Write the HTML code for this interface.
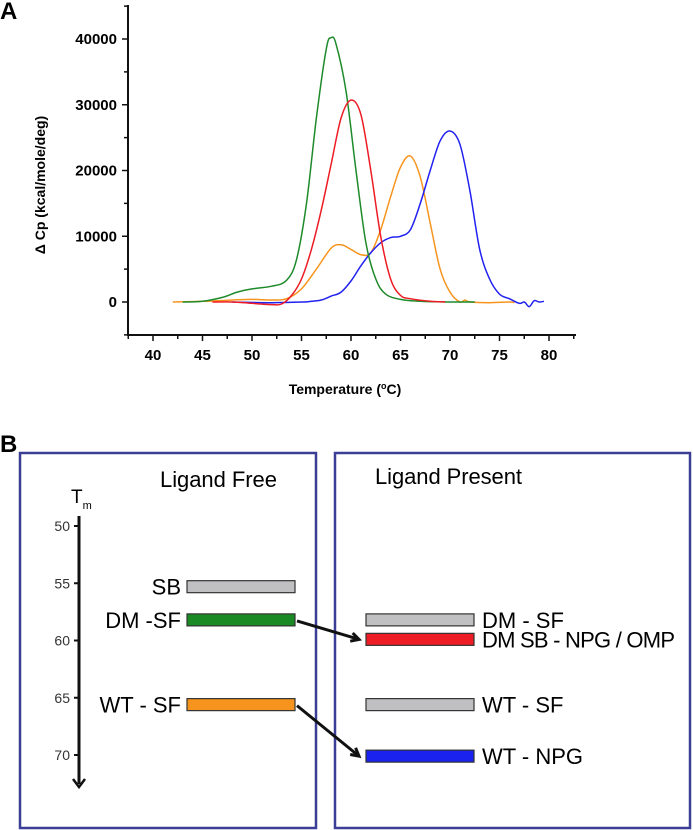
<!DOCTYPE html>
<html><head><meta charset="utf-8"><style>
html,body{margin:0;padding:0;background:#fff;}
svg{display:block;}
.ax{font-family:"Liberation Sans",sans-serif;font-weight:bold;}
.nb{font-family:"Liberation Sans Narrow","Liberation Sans",sans-serif;}
</style></head><body>
<svg id="fig" width="693" height="830" viewBox="0 0 693 830" xmlns="http://www.w3.org/2000/svg">
<text x="0" y="19" class="ax" font-size="24">A</text>
<g id="chart"></g>
<text x="0" y="452" class="ax" font-size="24">B</text>
<g id="panelB"></g>
</svg>
<script>
const xTicks=[40,45,50,55,60,65,70,75,80];
const yTicks=[0,10000,20000,30000,40000];
const greenT=[43,45,47,48.5,50,52,53.5,54.5,55.5,56.5,57.5,58,58.5,59.5,60.5,61.5,62.5,63.5,65,67,70,72.5];
const greenV=[0,100,700,1500,2000,2400,3300,6500,15000,28000,38500,40200,39200,32000,20000,9000,3500,1200,400,100,0,0];
const redT=[46,48,50,52,53,54,55,56,57,58,59,60,61,62,63,64,65,66,68,69.5];
const redV=[0,0,-200,-400,-300,1000,3500,8000,14000,21000,28000,30700,28500,20000,10000,3500,1000,500,100,0];
const orangeT=[42,45,48,50,52,53.5,55,56.5,58,59,60,61,62,63,64,65,66,67,68,69,70,71,71.5,72,74,76,76.5];
const orangeV=[0,100,300,400,300,500,2000,5000,8200,8700,8000,7200,7500,11000,16000,20500,22200,19000,12000,5000,1500,0,300,0,-100,0,-100];
const blueT=[48,52,55,56,57,58,59,60,61,62,63,64,65,66,67,68,69,70,71,72,73,74,75,76,77,77.5,78,78.5,79,79.5];
const blueV=[0,-100,0,100,300,900,1500,3200,5500,7500,9000,9800,10000,11000,15000,20000,24500,26000,24000,17000,8000,3500,1200,500,-200,0,-700,200,0,100];
const NS="http://www.w3.org/2000/svg";
function mk(tag,attrs,parent){const e=document.createElementNS(NS,tag);for(const k in attrs)e.setAttribute(k,attrs[k]);parent.appendChild(e);return e;}
const X=t=>153+(t-40)*9.9;
const Y=v=>302-v*0.006575;
const g=document.getElementById('chart');
let yl=mk('line',{x1:128,y1:5,x2:128,y2:335,stroke:'#111','stroke-width':2},g);


let xl=mk('line',{x1:127,y1:335,x2:576,y2:335,stroke:'#111','stroke-width':2},g);


for(let v=-5000;v<=45000;v+=5000){const maj=v%10000===0;mk('line',{x1:maj?122:124,y1:Y(v),x2:128,y2:Y(v),stroke:'#111','stroke-width':1.5},g);}
for(let t=37.5;t<=82.5;t+=2.5){const maj=t%5===0;mk('line',{x1:X(t),y1:335,x2:X(t),y2:maj?341:339,stroke:'#111','stroke-width':1.5},g);}
yTicks.forEach(v=>{const t=mk('text',{x:117,y:Y(v)+5,'text-anchor':'end','font-size':15,class:'ax'},g);t.textContent=v;

});
xTicks.forEach(v=>{const t=mk('text',{x:X(v),y:360,'text-anchor':'middle','font-size':15,class:'ax'},g);t.textContent=v;

});
const yt=mk('text',{x:0,y:0,transform:'translate(45,185) rotate(-90)','text-anchor':'middle','font-size':14,class:'ax'},g);
yt.textContent='\u0394 Cp (kcal/mole/deg)';


const xt=mk('text',{x:345,y:394,'text-anchor':'middle','font-size':14,class:'ax'},g);
xt.innerHTML='Temperature (<tspan dy="-5" font-size="9">o</tspan><tspan dy="5">C)</tspan>';


function pathD(T,V){const p=T.map((t,i)=>[X(t),Y(V[i])]);let d='M'+p[0][0].toFixed(1)+','+p[0][1].toFixed(1);
for(let i=0;i<p.length-1;i++){const p0=p[i-1]||p[i],p1=p[i],p2=p[i+1],p3=p[i+2]||p2;
const c1=[p1[0]+(p2[0]-p0[0])/6,p1[1]+(p2[1]-p0[1])/6],c2=[p2[0]-(p3[0]-p1[0])/6,p2[1]-(p3[1]-p1[1])/6];
d+=' C'+c1.map(n=>n.toFixed(1))+' '+c2.map(n=>n.toFixed(1))+' '+p2.map(n=>n.toFixed(1));}return d;}
[[orangeT,orangeV,'#f7941d','orange-wt-sf-curve'],[blueT,blueV,'#2121f0','blue-wt-npg-curve'],[greenT,greenV,'#1e8a2a','green-dm-sf-curve'],[redT,redV,'#ed1c24','red-dm-sb-curve']].forEach(s=>{
const p=mk('path',{d:pathD(s[0],s[1]),fill:'none',stroke:s[2],'stroke-width':1.5},g);

});

const tmTicks=[50,55,60,65,70];
const leftBars=['SB','DM -SF','WT - SF'];
const leftTm=[55.3,58.2,65.6];
const leftCol=['#c0c0c2','#1a8a24','#f7941d'];
const rightBars=['DM - SF','DM SB - NPG / OMP','WT - SF','WT - NPG'];
const rightTm=[58.2,59.9,65.6,70.1];
const rightCol=['#c0c0c2','#ee1c24','#c0c0c2','#1a22f0'];
const B=document.getElementById('panelB');
const TY=t=>526+(t-50)*11.45;
let b1=mk('rect',{x:20,y:453,width:296,height:375,fill:'none',stroke:'#3a3f95','stroke-width':2.5},B);


let b2=mk('rect',{x:335,y:453,width:355,height:375,fill:'none',stroke:'#3a3f95','stroke-width':2.5},B);


let h1=mk('text',{x:160,y:487,'font-size':22,class:'nb',textLength:117},B);h1.textContent='Ligand Free';


let h2=mk('text',{x:375,y:484,'font-size':22,class:'nb',textLength:147},B);h2.textContent='Ligand Present';


let tm=mk('text',{x:71,y:503,'font-size':19,class:'nb'},B);tm.innerHTML='T<tspan dy="6" font-size="11">m</tspan>';


let al=mk('line',{x1:79,y1:516,x2:79,y2:784,stroke:'#111','stroke-width':3},B);


mk('path',{d:'M73,779 L79,787 L85,779',fill:'none',stroke:'#111','stroke-width':2.5},B);
tmTicks.forEach(v=>{mk('line',{x1:74,y1:TY(v),x2:79,y2:TY(v),stroke:'#111','stroke-width':2},B);
const t=mk('text',{x:70,y:TY(v)+5,'text-anchor':'end','font-size':14,fill:'#333',class:'nb'},B);t.textContent=v;

});
leftBars.forEach((n,i)=>{const y=TY(leftTm[i]);
const r=mk('rect',{x:187,y:y-6,width:108,height:12,fill:leftCol[i],stroke:'#333','stroke-width':1.2},B);


const t=mk('text',{x:181,y:y+8,'text-anchor':'end','font-size':22,class:'nb'},B);t.textContent=n;

});
rightBars.forEach((n,i)=>{const y=TY(rightTm[i]);
const r=mk('rect',{x:366,y:y-6,width:108,height:12,fill:rightCol[i],stroke:'#333','stroke-width':1.2},B);


const t=mk('text',{x:482,y:y+8,'font-size':22,class:'nb'},B);t.textContent=n;
if(n.length>12)t.setAttribute('textLength',193);

});
[[1,1],[2,3]].forEach(pr=>{const y1=TY(leftTm[pr[0]])+1,y2=TY(rightTm[pr[1]]);
const a=mk('line',{x1:297,y1:y1,x2:359,y2:y2,stroke:'#111','stroke-width':3},B);


const ang=Math.atan2(y2-y1,359-297);const L=9;
const p=[[359-L*Math.cos(ang-0.5),y2-L*Math.sin(ang-0.5)],[359,y2],[359-L*Math.cos(ang+0.5),y2-L*Math.sin(ang+0.5)]];
mk('path',{d:'M'+p.map(q=>q[0].toFixed(1)+','+q[1].toFixed(1)).join(' L'),fill:'none',stroke:'#111','stroke-width':3},B);});
</script>
</body></html>
